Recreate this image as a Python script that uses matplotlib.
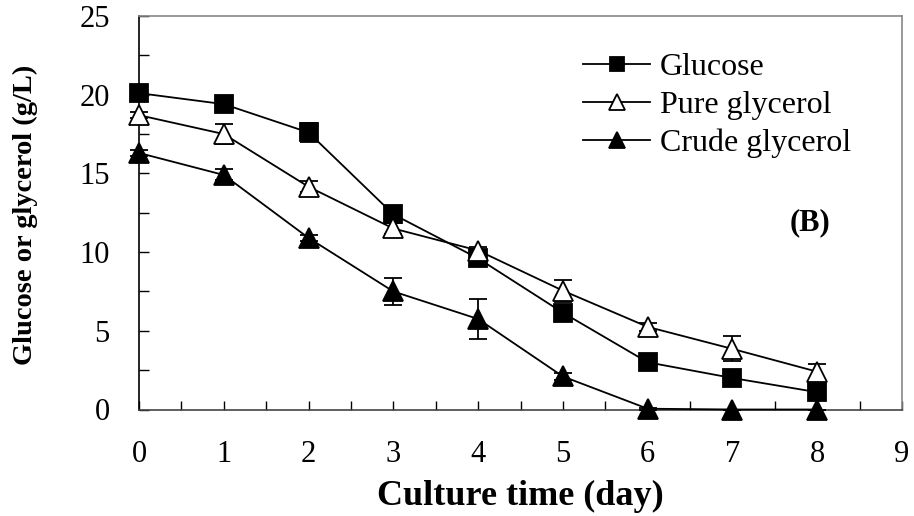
import matplotlib
matplotlib.use("Agg")
import matplotlib.pyplot as plt
from matplotlib.ticker import MultipleLocator

days = [0, 1, 2, 3, 4, 5, 6, 7, 8]
glucose = [20.1, 19.4, 17.6, 12.4, 9.6, 6.15, 3.0, 2.0, 1.1]
glucose_err = [0.1, 0.2, 0.6, 0.2, 0.2, 0.2, 0.15, 0.15, 0.15]
pure = [18.7, 17.5, 14.15, 11.5, 10.1, 7.55, 5.25, 3.85, 2.4]
pure_err = [0.2, 0.65, 0.35, 0.35, 0.2, 0.7, 0.25, 0.8, 0.47]
crude = [16.3, 14.9, 10.9, 7.5, 5.75, 2.1, 0.05, 0.0, 0.0]
crude_err = [0.2, 0.35, 0.2, 0.85, 1.3, 0.2, 0.05, 0.0, 0.0]
labels = ["Glucose", "Pure glycerol", "Crude glycerol"]
xlabel = "Culture time (day)"
ylabel = "Glucose or glycerol (g/L)"
panel = "(B)"

plt.rcParams['font.family'] = ['Liberation Serif', 'DejaVu Serif']

fig = plt.figure(figsize=(9.14, 5.16), dpi=100)
ax = fig.add_axes([139/914, 1-409.5/516, (902-139)/914, (409.5-16)/516])

common = dict(color='black', lw=1.3, capsize=6.5, elinewidth=1.3, capthick=1.3,
              markeredgecolor='black', markeredgewidth=1.3, clip_on=False)
c1 = ax.errorbar(days, glucose, yerr=glucose_err, marker='s', ms=13, mfc='black',
                 label=labels[0], zorder=3, **common)
c2 = ax.errorbar(days, pure, yerr=pure_err, marker='^', ms=15, mfc='white',
                 label=labels[1], zorder=4, **common)
c3 = ax.errorbar(days, crude, yerr=crude_err, marker='^', ms=15, mfc='black',
                 label=labels[2], zorder=5, **common)

ax.set_xlim(0, 9)
ax.set_ylim(0, 25)
ax.xaxis.set_major_locator(MultipleLocator(1))
ax.xaxis.set_minor_locator(MultipleLocator(0.5))
ax.yaxis.set_major_locator(MultipleLocator(5))
ax.yaxis.set_minor_locator(MultipleLocator(2.5))
ax.tick_params(axis='x', which='both', direction='in', length=6.5, width=1,
               top=False, labelsize=22, pad=22)
ax.tick_params(axis='y', which='both', direction='in', length=7, width=1,
               right=False, labelsize=22, pad=21)

for side, c in [('top', '#888888'), ('right', '#888888'),
                ('bottom', '#444444'), ('left', 'black')]:
    ax.spines[side].set_color(c)
    ax.spines[side].set_linewidth(1.2)

ax.set_xlabel(xlabel, fontsize=26, fontweight='bold')
ax.xaxis.set_label_coords(0.5, -0.18)
ax.set_ylabel(ylabel, fontsize=20.5, fontweight='bold')
ax.yaxis.set_label_coords(-0.132, 0.494)

ax.text(0.879, 0.474, panel, transform=ax.transAxes, fontsize=22,
        fontweight='bold', ha='center', va='center')

handles = [c1[0], c2[0], c3[0]]
leg = ax.legend(handles, labels, loc='upper left', bbox_to_anchor=(0.582, 0.906),
                frameon=False, fontsize=23, handlelength=2.1, handletextpad=0.31,
                labelspacing=0.26, borderpad=0, borderaxespad=0,
                markerscale=0.75)

fig.savefig("out.png", dpi=100)
